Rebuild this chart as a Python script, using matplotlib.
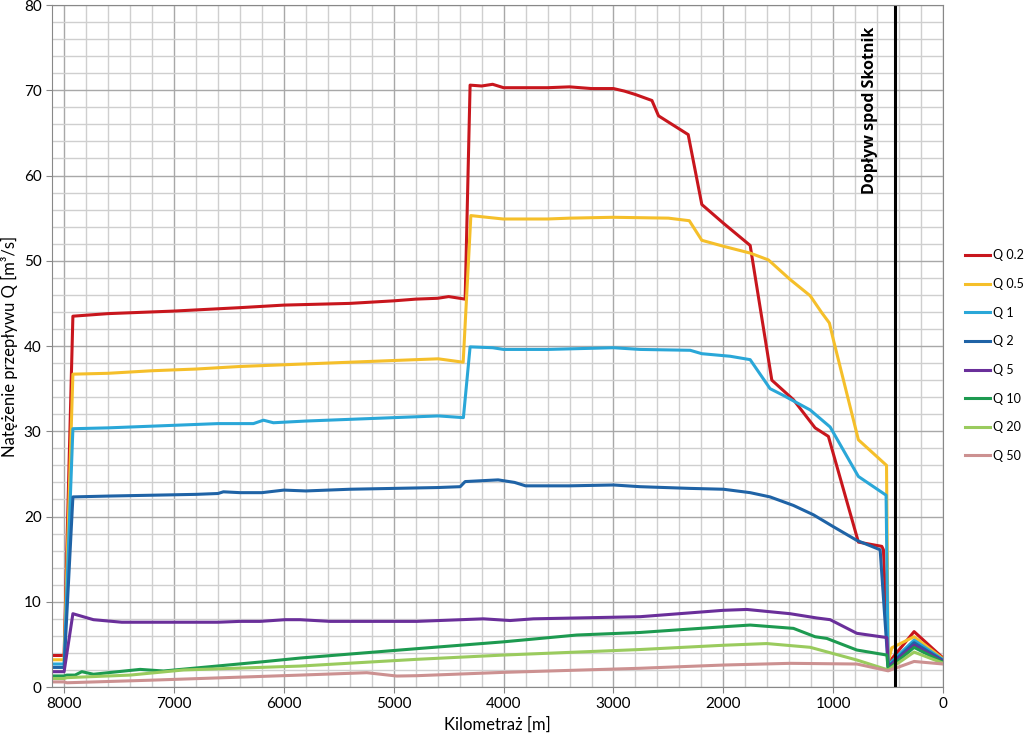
import matplotlib.pyplot as plt
from matplotlib.ticker import MultipleLocator

plt.rcParams['font.family'] = ['Lato', 'DejaVu Sans']

# Q 0.2
x_q02 = [8110, 8000, 7920, 7600, 7000, 6400, 6000, 5400, 5000, 4800, 4600, 4500, 4350, 4305,
         4200, 4100, 4000, 3800, 3600, 3400, 3200, 3000, 2900, 2800, 2650, 2590, 2320,
         2196, 1999, 1756, 1559, 1362, 1165, 1044, 771, 558, 543, 500, 264, 0]
y_q02 = [3.7, 3.7, 43.5, 43.8, 44.1, 44.5, 44.8, 45.0, 45.3, 45.5, 45.6, 45.8, 45.5, 70.6,
         70.5, 70.7, 70.3, 70.3, 70.3, 70.4, 70.2, 70.2, 69.9, 69.5, 68.8, 67.0, 64.8,
         56.6, 54.4, 51.8, 36.0, 33.7, 30.4, 29.4, 17.0, 16.5, 16.1, 2.8, 6.5, 3.4]

# Q 0.5
x_q05 = [8110, 8000, 7920, 7600, 7200, 6800, 6400, 6000, 5600, 5200, 4800, 4595, 4368, 4298,
         4004, 3600, 3400, 3003, 2500, 2310, 2196, 1999, 1756, 1590, 1392, 1210, 1104, 1035,
         998, 771, 515, 500, 467, 264, 0]
y_q05 = [3.2, 3.2, 36.7, 36.8, 37.1, 37.3, 37.6, 37.8, 38.0, 38.2, 38.4, 38.5, 38.1, 55.3,
         54.9, 54.9, 55.0, 55.1, 55.0, 54.7, 52.4, 51.7, 50.9, 50.1, 47.8, 45.9, 43.9, 42.7,
         40.7, 29.0, 26.0, 3.0, 4.6, 5.9, 3.3]

# Q 1
x_q1 = [8110, 8000, 7920, 7600, 7400, 7000, 6600, 6277, 6186, 6095, 5800, 5400, 5000, 4593,
        4366, 4305, 4100, 4000, 3600, 3000, 2758, 2302, 2196, 1938, 1756, 1575, 1453, 1210,
        1028, 771, 519, 500, 264, 0]
y_q1 = [2.7, 2.7, 30.3, 30.4, 30.5, 30.7, 30.9, 30.9, 31.3, 31.0, 31.2, 31.4, 31.6, 31.8,
        31.6, 39.9, 39.8, 39.6, 39.6, 39.8, 39.6, 39.5, 39.1, 38.8, 38.4, 35.0, 34.2, 32.5,
        30.5, 24.7, 22.5, 2.6, 5.5, 3.2]

# Q 2
x_q2 = [8110, 8000, 7920, 7600, 7200, 6800, 6600, 6550, 6400, 6200, 6000, 5800, 5600, 5400,
        5000, 4600, 4395, 4350, 4200, 4050, 3900, 3800, 3400, 3000, 2758, 2302, 1999, 1756,
        1575, 1362, 1180, 998, 785, 573, 500, 264, 0]
y_q2 = [2.3, 2.3, 22.3, 22.4, 22.5, 22.6, 22.7, 22.9, 22.8, 22.8, 23.1, 23.0, 23.1, 23.2,
        23.3, 23.4, 23.5, 24.1, 24.2, 24.3, 24.0, 23.6, 23.6, 23.7, 23.5, 23.3, 23.2, 22.8,
        22.3, 21.3, 20.2, 18.8, 17.2, 16.1, 2.4, 5.2, 3.1]

# Q 5
x_q5 = [8110, 8000, 7920, 7733, 7475, 7000, 6600, 6400, 6216, 5988, 5852, 5579, 4790, 4184,
        3941, 3729, 2758, 1999, 1787, 1392, 1149, 1028, 785, 512, 500, 264, 0]
y_q5 = [1.8, 1.8, 8.6, 7.9, 7.6, 7.6, 7.6, 7.7, 7.7, 7.9, 7.9, 7.7, 7.7, 8.0,
        7.8, 8.0, 8.25, 9.0, 9.1, 8.6, 8.1, 7.9, 6.3, 5.8, 2.3, 4.9, 3.0]

# Q 10
x_q10 = [8110, 8000, 7975, 7900, 7839, 7733, 7308, 7096, 6610, 6186, 5852, 4790, 4002,
         3334, 2758, 1999, 1756, 1362, 1165, 1058, 785, 512, 500, 264, 0]
y_q10 = [1.3, 1.3, 1.4, 1.4, 1.8, 1.5, 2.07, 1.88, 2.46, 2.97, 3.4, 4.5, 5.3,
         6.1, 6.4, 7.07, 7.27, 6.88, 5.9, 5.7, 4.34, 3.75, 2.1, 4.65, 2.9]

# Q 20
x_q20 = [8110, 8000, 7975, 7400, 6914, 5852, 4790, 4002, 2758, 1999, 1605, 1210, 785, 500,
         264, 0]
y_q20 = [1.0, 1.0, 1.1, 1.4, 2.0, 2.46, 3.25, 3.75, 4.4, 4.9, 5.1, 4.66, 3.17, 2.0,
         4.1, 2.8]

# Q 50
x_q50 = [8110, 8000, 7975, 7218, 5852, 5245, 4972, 4790, 4002, 2758, 1999, 1392, 785, 500,
         264, 0]
y_q50 = [0.6, 0.6, 0.5, 0.8, 1.4, 1.68, 1.29, 1.33, 1.72, 2.2, 2.58, 2.78, 2.7, 1.9,
         3.0, 2.7]

series = [
    ("Q 0.2", x_q02, y_q02, "#C8161D"),
    ("Q 0.5", x_q05, y_q05, "#F5BF2A"),
    ("Q 1", x_q1, y_q1, "#2AA7D8"),
    ("Q 2", x_q2, y_q2, "#1F63A6"),
    ("Q 5", x_q5, y_q5, "#6A2F9A"),
    ("Q 10", x_q10, y_q10, "#1D9A50"),
    ("Q 20", x_q20, y_q20, "#9ACB5E"),
    ("Q 50", x_q50, y_q50, "#CC9191"),
]

inflow_x = 437

fig = plt.figure(figsize=(10.24, 7.37), dpi=100)
ax = fig.add_axes([0.0508, 0.0678, 0.8702, 0.9254])

for name, xs, ys, col in series:
    ax.plot(xs, ys, color=col, lw=2.2, label=name)

ax.axvline(inflow_x, color="black", lw=2.2)
ax.text(664, 67.7, "Dopływ spod Skotnik", rotation=90, ha="center", va="center",
        fontsize=11.5, fontweight="bold", family=["Open Sans", "DejaVu Sans"])

ax.set_xlim(8110, 0)
ax.set_ylim(0, 80)
ax.xaxis.set_major_locator(MultipleLocator(1000))
ax.xaxis.set_minor_locator(MultipleLocator(200))
ax.yaxis.set_major_locator(MultipleLocator(10))
ax.yaxis.set_minor_locator(MultipleLocator(2))
ax.grid(which="minor", color="#CFCFCF", lw=1.0)
ax.grid(which="major", color="#A8A8A8", lw=1.0)
ax.set_axisbelow(True)
ax.tick_params(which="minor", length=0)
ax.tick_params(which="major", length=4, color="#888888", labelsize=11)
for s in ax.spines.values():
    s.set_color("#888888")

ax.set_xlabel("Kilometraż [m]", fontsize=12)
ax.set_ylabel("Natężenie przepływu Q [m³/s]", fontsize=12)

ax.legend(loc="center left", bbox_to_anchor=(1.025, 0.486), frameon=False,
          fontsize=9, labelspacing=1.33, handlelength=2.0, handletextpad=0.2,
          borderaxespad=0, borderpad=0)

plt.savefig("out.png", dpi=100)
